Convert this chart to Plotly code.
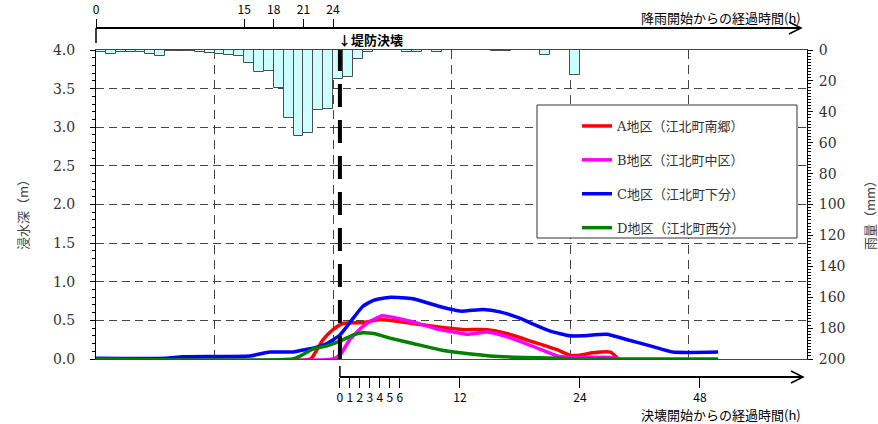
import plotly.graph_objects as go

# ---------------- data ----------------
RAIN_HOUR = list(range(49))  # hours since rainfall start (bar start)
RAIN_MM = [1, 2.5, 1, 1, 1, 2.5, 4, 0.5, 0.5, 0.5, 1.5, 2, 2.5, 3, 4, 8.5, 14.5, 13.5,
           24.5, 44, 55.5, 54, 39, 38.5, 19, 17.5, 6, 1, 0, 0, 0, 1.5, 1, 0, 1.5,
           0, 0, 0, 0, 0, 0.7, 0.7, 0, 0, 0, 3.5, 0, 0, 16]

BREACH_H = 24.7  # hours since rainfall start when the levee breached

A_T = [0, 21.7, 22.0, 23.0, 24.0, 25.0, 27.0, 28.8, 32.1, 35.5, 37.2, 39.6, 41.6, 44.3, 46.7, 48.0, 49.0, 50.3, 52.1, 52.9]
A_D = [0, 0, 0.04, 0.25, 0.38, 0.46, 0.47, 0.51, 0.46, 0.40, 0.38, 0.38, 0.33, 0.22, 0.12, 0.05, 0.05, 0.08, 0.09, 0.0]

B_T = [0, 24.0, 24.7, 25.7, 27.0, 28.1, 29.0, 32.1, 34.8, 36.2, 37.6, 39.6, 41.6, 44.3, 46.7, 48.0, 52.1, 52.9]
B_D = [0, 0, 0.05, 0.25, 0.42, 0.51, 0.56, 0.48, 0.38, 0.35, 0.32, 0.35, 0.29, 0.16, 0.04, 0.02, 0.02, 0.0]

C_T = [0, 7.0, 8.8, 15.6, 17.6, 19.9, 20.7, 22.0, 23.4, 24.7, 25.7, 27.0, 28.1, 29.8, 32.1, 34.8, 36.9, 39.2, 40.9, 42.9, 44.3, 46.0, 48.0, 49.3, 51.7, 53.8, 56.4, 58.4, 63.0]
C_D = [0.01, 0.01, 0.03, 0.04, 0.09, 0.09, 0.11, 0.14, 0.20, 0.31, 0.47, 0.68, 0.76, 0.80, 0.78, 0.68, 0.62, 0.64, 0.61, 0.53, 0.45, 0.36, 0.30, 0.30, 0.32, 0.25, 0.16, 0.09, 0.09]

D_T = [0, 19.9, 20.7, 22.0, 23.4, 24.7, 26.0, 27.0, 28.1, 30.1, 32.1, 34.8, 36.9, 39.9, 43.2, 46.7, 49.0, 63.0]
D_D = [0, 0, 0.04, 0.13, 0.17, 0.23, 0.31, 0.34, 0.33, 0.26, 0.20, 0.12, 0.08, 0.04, 0.02, 0.01, 0.0, 0.0]

SERIES_NAMES = ["A地区（江北町南郷）", "B地区（江北町中区）", "C地区（江北町下分）", "D地区（江北町西分）"]
SERIES_COLORS = ["#ff0000", "#ff00ff", "#0000ff", "#008000"]

TOP_TICKS = [0, 15, 18, 21, 24]
BOTTOM_TICK_POS = [0, 1, 2, 3, 4, 5, 6, 12, 24, 36]
BOTTOM_TICK_TEXT = ["0", "1", "2", "3", "4", "5", "6", "12", "24", "48"]
DEPTH_TICKS = [0, 0.5, 1.0, 1.5, 2.0, 2.5, 3.0, 3.5, 4.0]
GRID_X = [12, 24, 36, 48, 60]

# ---------------- geometry helpers ----------------
W, H = 878, 424
ML, MR = 96, 71
PW = W - ML - MR


def px_x(px):
    return (px - ML) / PW


def px_y(py):
    return (H - py) / H


SERIF = "DejaVu Serif, Noto Sans CJK JP"
GOTHIC = "Noto Sans CJK JP, Noto Sans"

fig = go.Figure()

fig.add_trace(go.Bar(
    x=RAIN_HOUR, y=RAIN_MM, width=1, offset=0, yaxis="y2",
    marker=dict(color="#ccffff", line=dict(color="#4d4d4d", width=1)),
    showlegend=False, hoverinfo="skip"))

for name, xs, ys, col in zip(SERIES_NAMES, [A_T, B_T, C_T, D_T], [A_D, B_D, C_D, D_D], SERIES_COLORS):
    fig.add_trace(go.Scatter(
        x=xs, y=ys, mode="lines", name=name, legendgroup=name,
        line=dict(color=col, width=3.5, shape="spline", smoothing=0.5),
        hoverinfo="skip"))

# dummy traces to materialise the top & bottom time axes
fig.add_trace(go.Scatter(x=[0], y=[0], xaxis="x2", yaxis="y3", mode="markers",
                         marker=dict(opacity=0), showlegend=False, hoverinfo="skip"))
fig.add_trace(go.Scatter(x=[0], y=[0], xaxis="x3", yaxis="y3", mode="markers",
                         marker=dict(opacity=0), showlegend=False, hoverinfo="skip"))

y_dom = [px_y(359), px_y(50)]

fig.update_layout(
    width=W, height=H,
    margin=dict(l=ML, r=MR, t=0, b=0, autoexpand=False),
    paper_bgcolor="white", plot_bgcolor="rgba(0,0,0,0)",
    hovermode=False,
    bargap=0,
    xaxis=dict(domain=[0, 1], range=[0, 72], anchor="y",
               tickvals=GRID_X, showticklabels=False, ticks="",
               showgrid=True, gridcolor="#444", gridwidth=1, griddash="9px,6px",
               showline=True, linecolor="#444", linewidth=1, mirror=True, zeroline=False),
    yaxis=dict(domain=y_dom, range=[0, 4], anchor="x",
               tickvals=DEPTH_TICKS, tickformat=".1f",
               ticks="outside", ticklen=5, tickcolor="black",
               minor=dict(dtick=0.1, tick0=0, ticks="outside", ticklen=3, tickcolor="black", showgrid=False),
               showgrid=True, gridcolor="#444", gridwidth=1, griddash="8px,5px",
               showline=True, linecolor="black", linewidth=1, zeroline=False,
               ticklabelstandoff=12,
               tickfont=dict(family=SERIF, size=14, color="#333")),
    yaxis2=dict(overlaying="y", side="right", anchor="x", range=[200, 0],
                tick0=0, dtick=20, ticks="outside", ticklen=5, tickcolor="black",
                minor=dict(dtick=2, tick0=0, ticks="outside", ticklen=3, tickcolor="black", showgrid=False),
                showgrid=False, showline=True, linecolor="black", linewidth=1, zeroline=False,
                ticklabelstandoff=3,
                tickfont=dict(family=SERIF, size=14, color="#333")),
    xaxis2=dict(domain=[0, px_x(800)], range=[0, (800 - ML) / (PW / 72)],
                anchor="free", position=px_y(28), side="top",
                tickvals=TOP_TICKS, ticks="outside", ticklen=8, tickcolor="black",
                showline=True, linecolor="black", linewidth=1.5,
                showgrid=False, zeroline=False,
                tickfont=dict(family=GOTHIC, size=12, color="black")),
    xaxis3=dict(domain=[BREACH_H / 72, px_x(802)], range=[0, (802 - ML - BREACH_H * PW / 72) / 10],
                anchor="free", position=px_y(377), side="bottom",
                tickvals=BOTTOM_TICK_POS, ticktext=BOTTOM_TICK_TEXT,
                ticks="outside", ticklen=10, tickcolor="black",
                showline=True, linecolor="black", linewidth=1.5,
                showgrid=False, zeroline=False,
                tickfont=dict(family=GOTHIC, size=12, color="black")),
    yaxis3=dict(domain=[0, 1], range=[0, 1], anchor="x2", visible=False),
    legend=dict(x=px_x(577), y=px_y(111), xanchor="left", yanchor="top",
                bgcolor="rgba(0,0,0,0)", borderwidth=0, tracegroupgap=14,
                font=dict(family=SERIF, size=13, color="#333")),
)

shapes = []
# legend frame
shapes.append(dict(type="rect", xref="paper", yref="paper",
                   x0=px_x(537), x1=px_x(797), y0=px_y(238), y1=px_y(105),
                   fillcolor="white", line=dict(color="#333", width=1), layer="above"))
# breach line
shapes.append(dict(type="line", xref="x", yref="y", x0=BREACH_H, x1=BREACH_H, y0=0, y1=4,
                   line=dict(color="black", width=4, dash="23px,13px"), layer="above"))
# top axis arrow head
shapes.append(dict(type="path", xref="paper", yref="paper",
                   path=f"M{px_x(789)},{px_y(22)} L{px_x(801)},{px_y(28)} L{px_x(789)},{px_y(34)}",
                   line=dict(color="black", width=1.5)))
# bottom axis arrow head
shapes.append(dict(type="path", xref="paper", yref="paper",
                   path=f"M{px_x(791)},{px_y(371)} L{px_x(803)},{px_y(377)} L{px_x(791)},{px_y(383)}",
                   line=dict(color="black", width=1.5)))
# zero tick extensions
shapes.append(dict(type="line", xref="paper", yref="paper", x0=0, x1=0, y0=px_y(43), y1=px_y(28),
                   line=dict(color="black", width=1.5)))
shapes.append(dict(type="line", xref="x", yref="paper", x0=BREACH_H, x1=BREACH_H, y0=px_y(377), y1=px_y(366),
                   line=dict(color="black", width=1.5)))
fig.update_layout(shapes=shapes)

annotations = [
    dict(text="降雨開始からの経過時間(h)", xref="paper", yref="paper", x=px_x(803), y=px_y(17),
         xanchor="right", yanchor="middle", showarrow=False, font=dict(family=GOTHIC, size=13, color="black")),
    dict(text="決壊開始からの経過時間(h)", xref="paper", yref="paper", x=px_x(803), y=px_y(414),
         xanchor="right", yanchor="middle", showarrow=False, font=dict(family=GOTHIC, size=13, color="black")),
    dict(text="<b>↓堤防決壊</b>", xref="paper", yref="paper", x=px_x(336), y=px_y(40),
         xanchor="left", yanchor="middle", showarrow=False, font=dict(family=GOTHIC, size=13, color="black")),
    dict(text="浸水深（m）", xref="paper", yref="paper", x=px_x(22), y=px_y(212), textangle=-90,
         xanchor="center", yanchor="middle", showarrow=False, font=dict(family=GOTHIC, size=13, color="#444")),
    dict(text="雨量（mm）", xref="paper", yref="paper", x=px_x(869), y=px_y(212), textangle=-90,
         xanchor="center", yanchor="middle", showarrow=False, font=dict(family=GOTHIC, size=13, color="#444")),
]
fig.update_layout(annotations=annotations)

fig.write_html("out.html")
